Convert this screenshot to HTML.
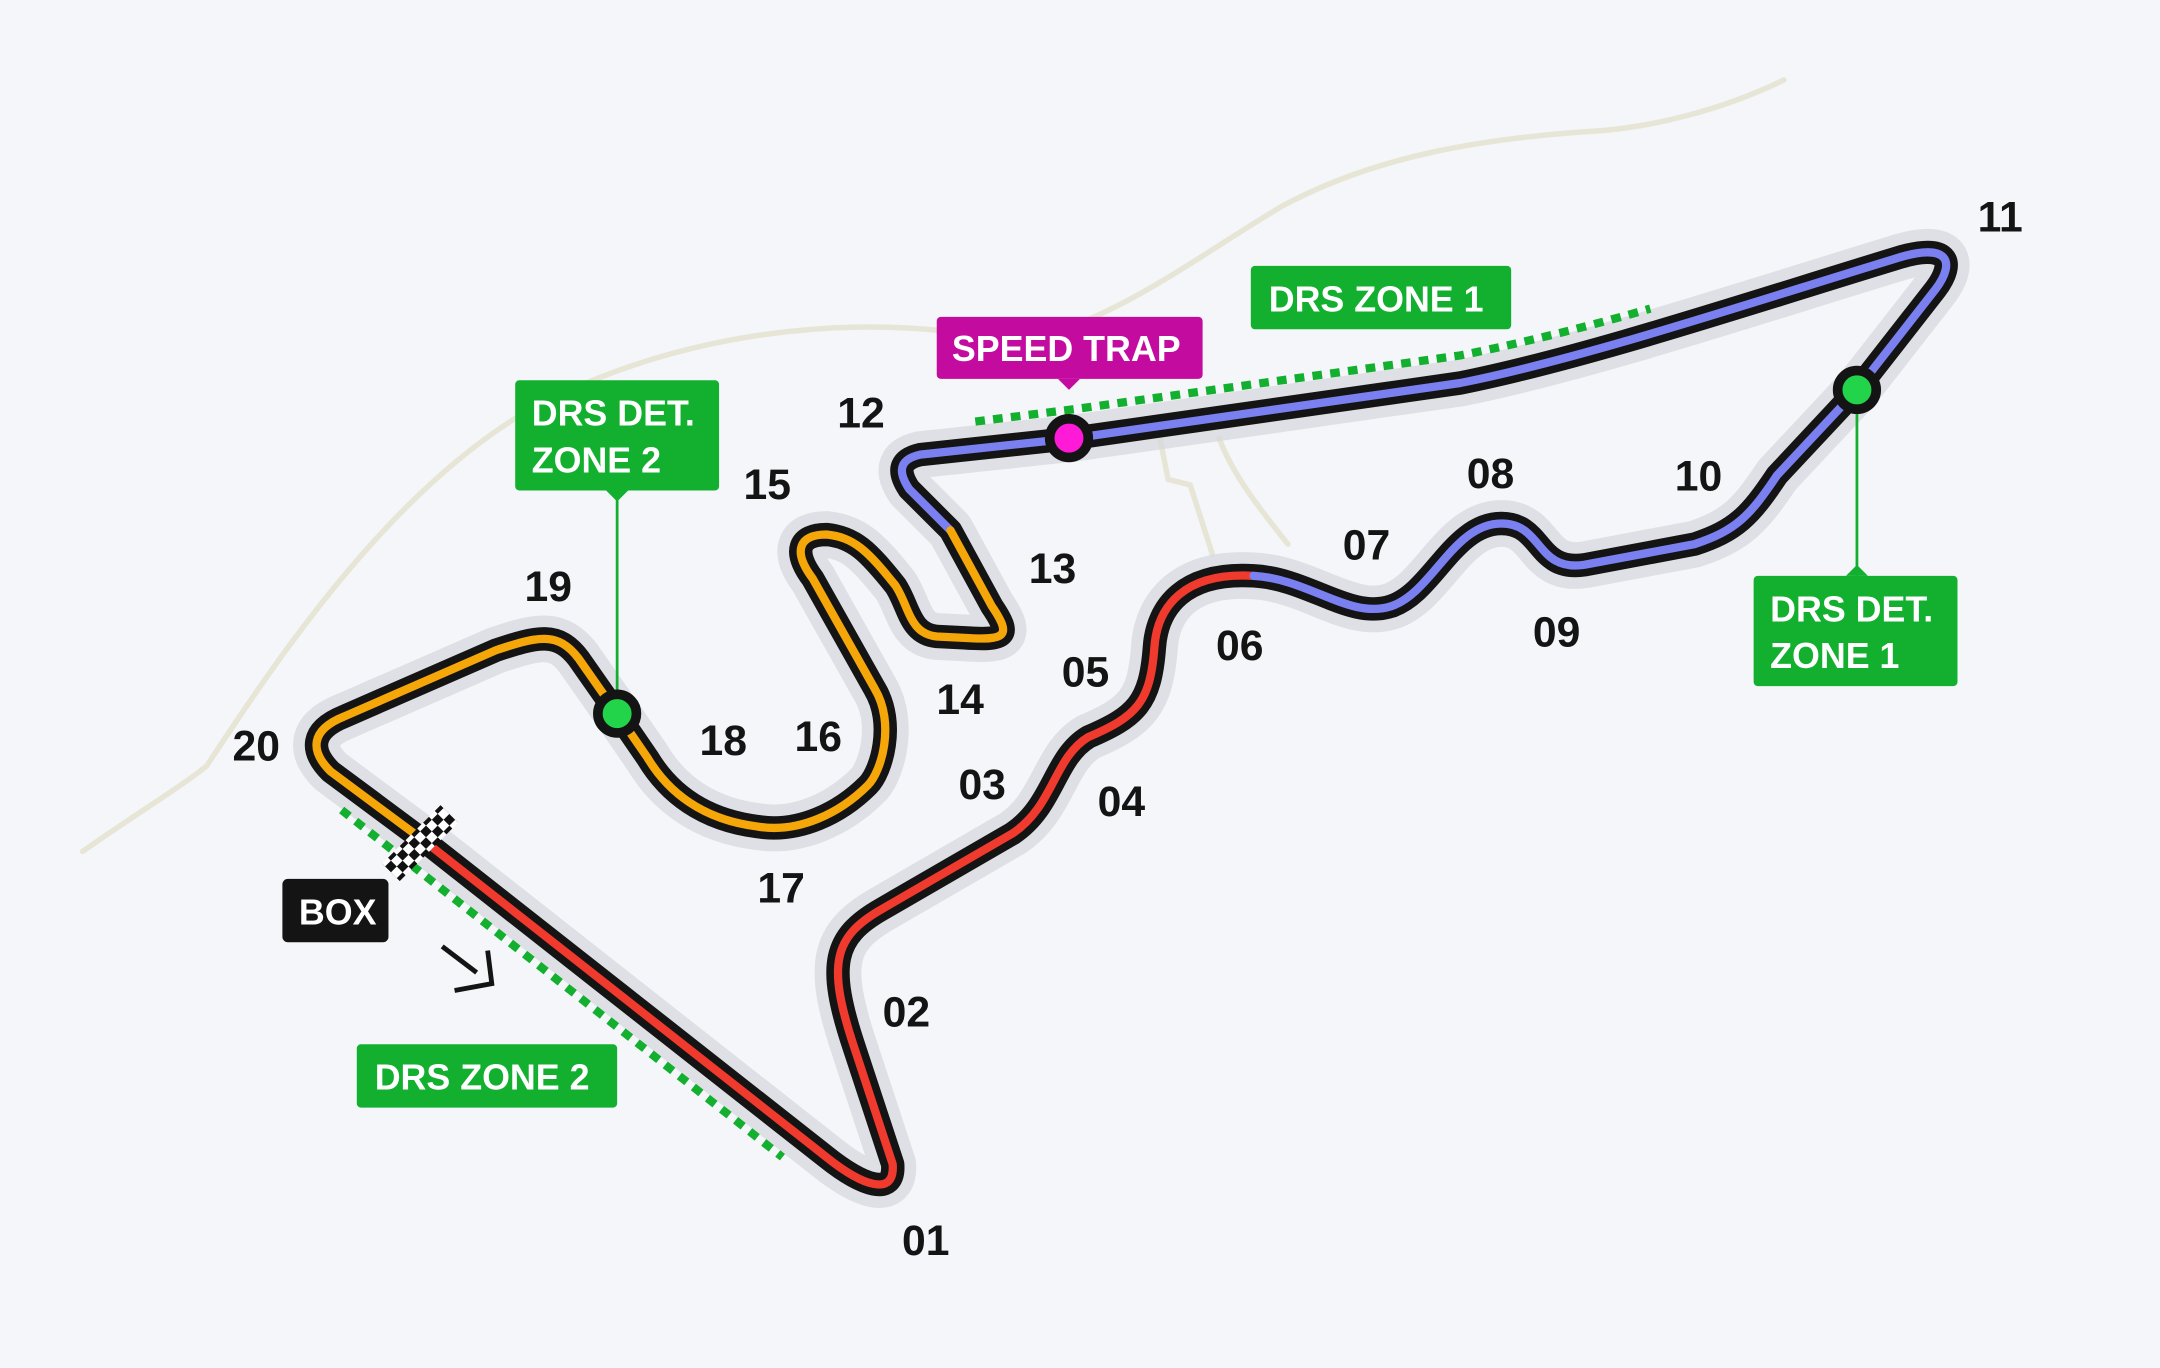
<!DOCTYPE html>
<html><head><meta charset="utf-8"><style>
html,body{margin:0;padding:0;background:#f4f6fa;}
svg{display:block;}
text{font-family:"Liberation Sans","DejaVu Sans",sans-serif;font-weight:bold;}
</style></head><body>
<svg width="2160" height="1368" viewBox="0 0 1568 993" xmlns="http://www.w3.org/2000/svg">
<defs>
<pattern id="chk" width="12" height="12" patternUnits="userSpaceOnUse">
<rect width="12" height="12" fill="#fff"/><rect width="6" height="6" fill="#111"/><rect x="6" y="6" width="6" height="6" fill="#111"/>
</pattern>
</defs>
<rect width="1568" height="993" fill="#f4f6fa"/>
<g fill="none" stroke="#e7e6d6" stroke-width="4" stroke-linecap="round">
<path d="M60,618 C100,590 130,572 150,556 C200,480 280,360 380,300 C480,245 600,228 700,242"/>
<path d="M1295,58 C1250,80 1200,92 1160,95 C1080,100 1000,112 930,150 C880,180 840,210 790,232"/>
<path d="M842,318 L848,348 L864,352 L880,402"/>
<path d="M885,318 C895,345 915,370 935,395"/>
</g>
<g fill="none" stroke-linecap="round" stroke-linejoin="round">
<g stroke="#d6d7db" stroke-width="34">
<path d="M310,612 L600,840 C625,860 650,870 648,845 L620,760 C600,700 605,680 640,660 L735,605 C765,585 765,550 790,535 C825,520 835,510 838,470 C840,440 860,415 910,418 C950,420 980,450 1010,440 C1040,430 1055,380 1090,380 C1120,380 1115,415 1150,410 L1230,395 C1260,385 1270,375 1290,345 L1348,283 L1405,210 C1420,190 1415,175 1375,188 C1270,220 1150,260 1060,278 L780,318 L668,330 C655,333 650,340 660,355 L690,385 L720,440 C735,462 730,465 700,463 L680,462 C660,460 660,440 650,425 C630,400 620,390 600,388 C580,388 575,400 590,420 L635,500 C650,525 640,560 630,570 C610,590 580,605 550,600 C510,595 485,575 470,550 L448,518 L420,478 C405,458 390,462 360,472 L250,520 C225,530 225,545 240,560 L310,612" stroke-opacity="0.7"/>
</g>
<path stroke="#141414" stroke-width="17" d="M310,612 L600,840 C625,860 650,870 648,845 L620,760 C600,700 605,680 640,660 L735,605 C765,585 765,550 790,535 C825,520 835,510 838,470 C840,440 860,415 910,418 C950,420 980,450 1010,440 C1040,430 1055,380 1090,380 C1120,380 1115,415 1150,410 L1230,395 C1260,385 1270,375 1290,345 L1348,283 L1405,210 C1420,190 1415,175 1375,188 C1270,220 1150,260 1060,278 L780,318 L668,330 C655,333 650,340 660,355 L690,385 L720,440 C735,462 730,465 700,463 L680,462 C660,460 660,440 650,425 C630,400 620,390 600,388 C580,388 575,400 590,420 L635,500 C650,525 640,560 630,570 C610,590 580,605 550,600 C510,595 485,575 470,550 L448,518 L420,478 C405,458 390,462 360,472 L250,520 C225,530 225,545 240,560 L310,612"/>
<path stroke="#f03a2e" stroke-width="6" d="M310,612 L600,840 C625,860 650,870 648,845 L620,760 C600,700 605,680 640,660 L735,605 C765,585 765,550 790,535 C825,520 835,510 838,470 C840,440 860,415 910,418"/>
<path stroke="#7b80f0" stroke-width="6" d="M910,418 C950,420 980,450 1010,440 C1040,430 1055,380 1090,380 C1120,380 1115,415 1150,410 L1230,395 C1260,385 1270,375 1290,345 L1348,283 L1405,210 C1420,190 1415,175 1375,188 C1270,220 1150,260 1060,278 L780,318 L668,330 C655,333 650,340 660,355 L690,385"/>
<path stroke="#f5a70a" stroke-width="6" d="M690,385 L720,440 C735,462 730,465 700,463 L680,462 C660,460 660,440 650,425 C630,400 620,390 600,388 C580,388 575,400 590,420 L635,500 C650,525 640,560 630,570 C610,590 580,605 550,600 C510,595 485,575 470,550 L448,518 L420,478 C405,458 390,462 360,472 L250,520 C225,530 225,545 240,560 L310,612"/>
</g>
<g stroke="#12b02e" stroke-width="6" stroke-dasharray="7 6" fill="none">
<path d="M708,306 L780,297 L1060,258 C1110,248 1160,235 1198,224"/>
<path d="M248,588 L568,840"/>
</g>
<!-- checkered flag -->
<g transform="translate(305,612) rotate(-45)">
<rect x="-30" y="-9" width="60" height="18" fill="url(#chk)" transform="translate(0,0)"/>
</g>
<path d="M321,687 L346,706" stroke="#141414" stroke-width="3.5" fill="none"/>
<path d="M354,690 L357,714 L330,719" stroke="#141414" stroke-width="3.5" fill="none"/>
<!-- connectors -->
<line x1="448" y1="356" x2="448" y2="518" stroke="#12b02e" stroke-width="2"/>
<line x1="1348" y1="283" x2="1348" y2="418" stroke="#12b02e" stroke-width="2"/>
<!-- dots -->
<circle cx="448" cy="518" r="14" fill="#22d44a" stroke="#141414" stroke-width="7"/>
<circle cx="1348" cy="283" r="14" fill="#22d44a" stroke="#141414" stroke-width="7"/>
<circle cx="776" cy="318" r="14" fill="#ff1ad8" stroke="#141414" stroke-width="7"/>
<!-- boxes -->
<g fill="#12b02e">
<rect x="374" y="276" width="148" height="80" rx="3"/><path d="M440,356 L448,364 L456,356Z"/>
<rect x="908" y="193" width="189" height="46" rx="3"/>
<rect x="1273" y="418" width="148" height="80" rx="3"/><path d="M1340,418 L1348,410 L1356,418Z"/>
<rect x="259" y="758" width="189" height="46" rx="3"/>
</g>
<rect x="680" y="230" width="193" height="45" rx="3" fill="#c30ba0"/><path d="M768,275 L776,283 L784,275Z" fill="#c30ba0"/>
<rect x="205" y="638" width="77" height="46" rx="4" fill="#141414"/>
<g fill="#fff" font-size="26">
<text x="386" y="309">DRS DET.</text><text x="386" y="343">ZONE 2</text>
<text x="921" y="226">DRS ZONE 1</text>
<text x="1285" y="451">DRS DET.</text><text x="1285" y="485">ZONE 1</text>
<text x="272" y="791">DRS ZONE 2</text>
<text x="691" y="262">SPEED TRAP</text>
<text x="217" y="671">BOX</text>
</g>
<g fill="#141414" font-size="31" text-anchor="middle" dominant-baseline="central">
<text x="1452" y="158">11</text><text x="625" y="300">12</text><text x="557" y="352">15</text>
<text x="398" y="426">19</text><text x="186" y="542">20</text><text x="764" y="413">13</text>
<text x="697" y="508">14</text><text x="525" y="538">18</text><text x="594" y="535">16</text>
<text x="567" y="645">17</text><text x="788" y="488">05</text><text x="900" y="469">06</text>
<text x="992" y="396">07</text><text x="1082" y="344">08</text><text x="1130" y="459">09</text>
<text x="1233" y="346">10</text><text x="713" y="570">03</text><text x="814" y="582">04</text>
<text x="658" y="735">02</text><text x="672" y="901">01</text>
</g>
</svg>
</body></html>
